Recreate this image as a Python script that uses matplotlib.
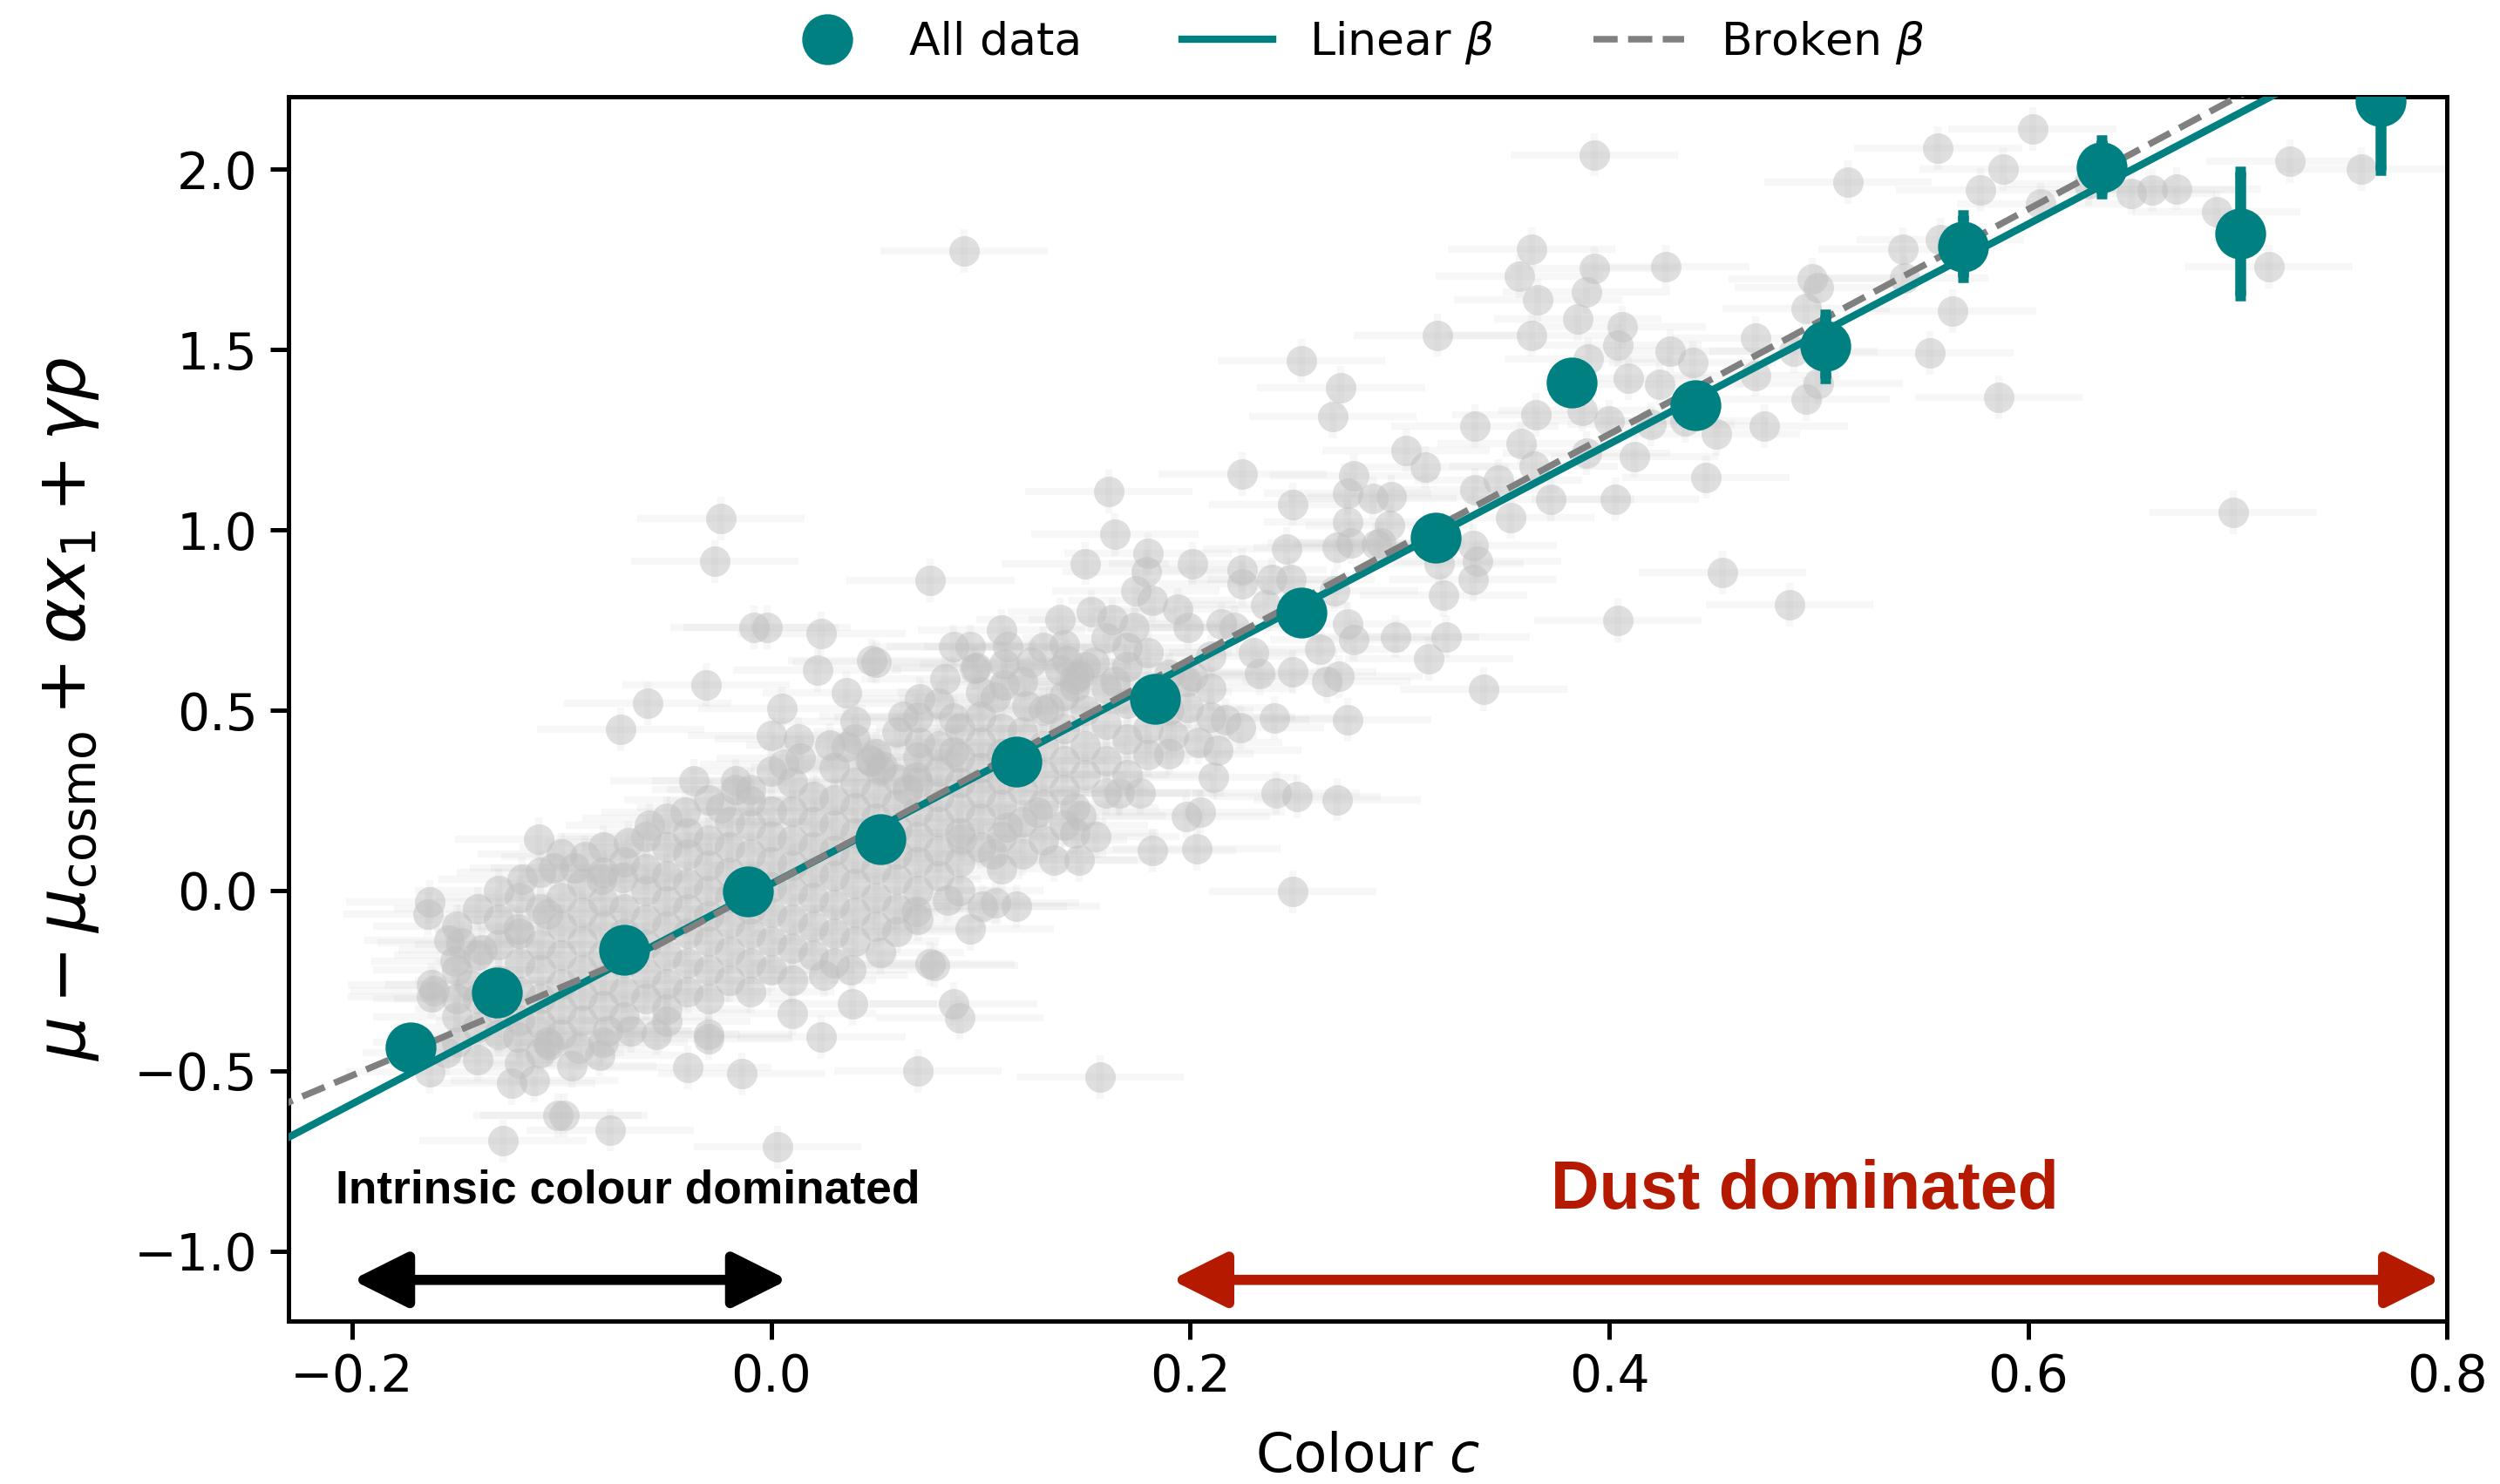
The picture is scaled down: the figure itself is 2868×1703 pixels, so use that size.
import numpy as np
import matplotlib
matplotlib.use("Agg")
import matplotlib.pyplot as plt
from matplotlib.lines import Line2D

# %% data

# binned means (teal)
bin_c = [-0.172, -0.131, -0.070, -0.011, 0.052, 0.117, 0.183, 0.253, 0.317,
         0.382, 0.441, 0.503, 0.569, 0.635, 0.701, 0.768]
bin_mu = [-0.435, -0.282, -0.165, -0.002, 0.142, 0.357, 0.531, 0.770, 0.978,
          1.409, 1.345, 1.509, 1.786, 2.006, 1.822, 2.188]
bin_err = [0.03, 0.03, 0.02, 0.02, 0.02, 0.02, 0.03, 0.03, 0.04,
           0.05, 0.05, 0.088, 0.086, 0.074, 0.172, 0.19]

# fitted relations
lin_beta = 3.05
lin_zp = 0.018
brk_c = -0.06
brk_mu = -0.170
brk_beta_lo = 2.45
brk_beta_hi = 3.12

# individual SNe (grey), outskirts of the cloud
sn_outer = [
    (0.092, 1.774), (-0.024, 1.031), (-0.027, 0.912), (0.076, 0.860),
    (-0.008, 0.730), (-0.002, 0.730), (0.024, 0.712), (0.050, 0.633),
    (0.022, 0.611), (-0.031, 0.571), (-0.059, 0.518), (-0.072, 0.447),
    (0.036, 0.549), (0.005, 0.505), (0.040, 0.469), (0.087, 0.677),
    (0.095, 0.677), (0.110, 0.721), (0.113, 0.677), (0.130, 0.673),
    (0.083, 0.588), (0.071, 0.531), (0.063, 0.482), (0.087, 0.478),
    (0.100, 0.482), (0.122, 0.513), (0.111, 0.571), (0.107, 0.535),
    (0.071, 0.411), (0.087, 0.385), (0.000, 0.429), (0.013, 0.420),
    (0.028, 0.403), (0.036, 0.398), (0.006, 0.350), (0.048, 0.358),
    (0.053, 0.345), (-0.037, 0.305), (-0.017, 0.305), (0.098, 0.619),
    (0.111, 0.628), (0.124, 0.633), (0.138, 0.611), (0.133, 0.505),
    (0.145, 0.230), (0.145, 0.159), (0.135, 0.084), (0.147, 0.084),
    (0.117, -0.044), (0.095, -0.106), (0.078, -0.208), (0.087, -0.314),
    (0.090, -0.354), (0.039, -0.314), (0.024, -0.407), (0.010, -0.341),
    (-0.030, -0.398), (0.038, -0.221), (0.025, -0.235), (0.052, -0.173),
    (0.060, -0.115), (0.069, -0.058), (0.084, -0.027), (0.101, -0.044),
    (0.106, 0.102), (0.091, 0.142), (0.113, 0.177), (0.127, 0.217),
    (0.138, 0.752), (0.153, 0.774), (0.163, 0.752), (0.173, 0.730),
    (0.194, 0.779), (0.199, 0.730), (0.215, 0.739), (0.221, 0.730),
    (0.225, 0.889), (0.225, 0.850), (0.239, 0.863), (0.248, 0.863),
    (0.236, 0.792), (0.269, 0.832), (0.275, 0.739), (0.230, 0.659),
    (0.233, 0.602), (0.249, 0.606), (0.262, 0.668), (0.271, 0.593),
    (0.265, 0.580), (0.198, 0.580), (0.154, 0.633), (0.145, 0.588),
    (0.164, 0.580), (0.161, 1.106), (0.164, 0.987), (0.150, 0.907),
    (0.180, 0.934), (0.201, 0.907), (0.246, 0.947), (0.270, 0.951),
    (0.291, 0.965), (0.179, 0.885), (0.174, 0.832), (0.182, 0.805),
    (0.225, 1.155), (0.249, 1.071), (0.278, 1.150), (0.275, 1.102),
    (0.287, 1.088), (0.296, 1.093), (0.275, 1.022), (0.295, 1.013),
    (0.253, 1.469), (0.272, 1.394), (0.268, 1.314), (0.048, 0.637),
    (0.141, 0.637), (0.170, 0.673), (0.097, 0.615), (0.147, 0.597),
    (0.145, 0.566), (0.201, 0.593), (0.240, 0.478), (0.275, 0.473),
    (0.217, 0.473), (0.224, 0.451), (0.199, 0.508), (0.192, 0.429),
    (0.204, 0.411), (0.180, 0.376), (0.213, 0.389), (0.211, 0.314),
    (0.241, 0.270), (0.251, 0.261), (0.270, 0.252), (0.198, 0.204),
    (0.205, 0.217), (0.203, 0.115), (0.182, 0.111), (0.249, -0.004),
    (0.176, 0.270), (0.166, 0.270), (0.155, 0.150), (0.148, 0.208),
    (0.107, -0.035), (0.157, -0.518), (0.070, -0.500), (0.003, -0.712),
    (-0.014, -0.509), (-0.040, -0.491), (-0.030, -0.412), (-0.077, -0.664),
    (-0.102, -0.624), (-0.099, -0.624), (-0.128, -0.695), (-0.124, -0.535),
    (-0.113, -0.527), (-0.095, -0.487), (-0.082, -0.456), (-0.107, -0.420),
    (-0.163, -0.504), (-0.155, -0.451), (-0.121, -0.407), (-0.067, -0.389),
    (-0.055, -0.398), (-0.050, -0.363), (-0.078, -0.389), (-0.106, -0.429),
    (-0.092, -0.438), (-0.162, -0.261), (-0.162, -0.296), (-0.151, -0.195),
    (-0.144, -0.261), (-0.154, -0.137), (-0.138, -0.164), (-0.148, -0.146),
    (-0.161, -0.279), (-0.163, -0.031), (-0.164, -0.066), (-0.111, 0.142),
    (-0.119, 0.031), (-0.104, 0.062), (-0.094, 0.062), (-0.089, 0.093),
    (-0.068, 0.133), (-0.058, 0.181), (-0.041, 0.217), (-0.017, 0.279),
    (-0.010, 0.248), (-0.024, 0.230), (-0.081, 0.031), (-0.071, 0.035),
    (0.014, 0.367), (0.052, 0.336), (0.047, 0.363), (0.065, 0.279),
    (0.069, 0.314), (0.076, -0.204), (-0.121, -0.106), (-0.107, -0.066),
]

# dense core of the cloud (estimated, individual points not resolvable)
sn_core = [
    (-0.15, -0.42), (-0.15, -0.35), (-0.15, -0.22), (-0.15, -0.10), (-0.15, -0.30),
    (-0.14, -0.47), (-0.14, -0.38), (-0.14, -0.30), (-0.14, -0.18), (-0.14, -0.05),
    (-0.13, -0.40), (-0.13, -0.33), (-0.13, -0.25), (-0.13, -0.15), (-0.13, -0.08),
    (-0.13, 0.00), (-0.12, -0.48), (-0.12, -0.36), (-0.12, -0.28), (-0.12, -0.20),
    (-0.12, -0.12), (-0.12, -0.02), (-0.11, -0.45), (-0.11, -0.37), (-0.11, -0.30),
    (-0.11, -0.22), (-0.11, -0.15), (-0.11, -0.05), (-0.11, 0.05), (-0.10, -0.40),
    (-0.10, -0.33), (-0.10, -0.26), (-0.10, -0.18), (-0.10, -0.10), (-0.10, -0.02),
    (-0.10, 0.10), (-0.09, -0.36), (-0.09, -0.29), (-0.09, -0.22), (-0.09, -0.14),
    (-0.09, -0.06), (-0.09, 0.02), (-0.08, -0.42), (-0.08, -0.32), (-0.08, -0.25),
    (-0.08, -0.18), (-0.08, -0.10), (-0.08, -0.03), (-0.08, 0.05), (-0.08, 0.12),
    (-0.07, -0.35), (-0.07, -0.28), (-0.07, -0.20), (-0.07, -0.12), (-0.07, -0.05),
    (-0.07, 0.08), (-0.06, -0.30), (-0.06, -0.23), (-0.06, -0.15), (-0.06, -0.08),
    (-0.06, 0.00), (-0.06, 0.06), (-0.06, 0.15), (-0.05, -0.33), (-0.05, -0.26),
    (-0.05, -0.18), (-0.05, -0.10), (-0.05, -0.03), (-0.05, 0.04), (-0.05, 0.12),
    (-0.05, 0.20), (-0.04, -0.28), (-0.04, -0.20), (-0.04, -0.12), (-0.04, -0.05),
    (-0.04, 0.02), (-0.04, 0.10), (-0.04, 0.16), (-0.03, -0.30), (-0.03, -0.22),
    (-0.03, -0.14), (-0.03, -0.07), (-0.03, 0.00), (-0.03, 0.07), (-0.03, 0.14),
    (-0.03, 0.25), (-0.02, -0.25), (-0.02, -0.17), (-0.02, -0.09), (-0.02, -0.02),
    (-0.02, 0.05), (-0.02, 0.12), (-0.02, 0.19), (-0.01, -0.28), (-0.01, -0.20),
    (-0.01, -0.12), (-0.01, -0.05), (-0.01, 0.03), (-0.01, 0.10), (-0.01, 0.18),
    (-0.01, 0.28), (0.00, -0.22), (0.00, -0.14), (0.00, -0.06), (0.00, 0.01),
    (0.00, 0.08), (0.00, 0.15), (0.00, 0.22), (0.00, 0.33), (0.01, -0.25),
    (0.01, -0.16), (0.01, -0.08), (0.01, 0.00), (0.01, 0.07), (0.01, 0.14),
    (0.01, 0.22), (0.01, 0.30), (0.02, -0.18), (0.02, -0.10), (0.02, -0.02),
    (0.02, 0.05), (0.02, 0.12), (0.02, 0.19), (0.02, 0.26), (0.03, -0.20),
    (0.03, -0.12), (0.03, -0.04), (0.03, 0.04), (0.03, 0.11), (0.03, 0.18),
    (0.03, 0.25), (0.03, 0.34), (0.04, -0.14), (0.04, -0.06), (0.04, 0.02),
    (0.04, 0.09), (0.04, 0.16), (0.04, 0.23), (0.04, 0.30), (0.04, 0.42),
    (0.05, -0.10), (0.05, -0.02), (0.05, 0.06), (0.05, 0.13), (0.05, 0.20),
    (0.05, 0.27), (0.05, 0.38), (0.06, -0.05), (0.06, 0.03), (0.06, 0.10),
    (0.06, 0.17), (0.06, 0.24), (0.06, 0.31), (0.06, 0.44), (0.07, -0.08),
    (0.07, 0.00), (0.07, 0.08), (0.07, 0.15), (0.07, 0.22), (0.07, 0.30),
    (0.07, 0.37), (0.07, 0.48), (0.08, 0.04), (0.08, 0.11), (0.08, 0.19),
    (0.08, 0.26), (0.08, 0.33), (0.08, 0.40), (0.08, 0.52), (0.09, 0.00),
    (0.09, 0.08), (0.09, 0.16), (0.09, 0.23), (0.09, 0.30), (0.09, 0.37),
    (0.09, 0.45), (0.10, 0.12), (0.10, 0.20), (0.10, 0.27), (0.10, 0.34),
    (0.10, 0.41), (0.10, 0.55), (0.11, 0.06), (0.11, 0.15), (0.11, 0.24),
    (0.11, 0.31), (0.11, 0.38), (0.11, 0.45), (0.12, 0.10), (0.12, 0.19),
    (0.12, 0.28), (0.12, 0.36), (0.12, 0.44), (0.12, 0.58), (0.13, 0.14),
    (0.13, 0.24), (0.13, 0.32), (0.13, 0.40), (0.13, 0.50), (0.14, 0.18),
    (0.14, 0.28), (0.14, 0.36), (0.14, 0.45), (0.14, 0.54), (0.14, 0.68),
    (0.15, 0.32), (0.15, 0.40), (0.15, 0.50), (0.15, 0.62), (0.16, 0.27),
    (0.16, 0.36), (0.16, 0.46), (0.16, 0.56), (0.16, 0.70), (0.17, 0.32),
    (0.17, 0.42), (0.17, 0.52), (0.17, 0.62), (0.18, 0.45), (0.18, 0.55),
    (0.18, 0.66), (0.19, 0.38), (0.19, 0.50), (0.19, 0.60), (0.21, 0.48),
    (0.21, 0.56), (0.21, 0.65),
]

# redder, dust dominated SNe
sn_red = [
    (0.363, 1.779), (0.357, 1.703), (0.393, 1.726), (0.389, 1.659), (0.366, 1.637),
    (0.385, 1.584), (0.363, 1.540), (0.427, 1.730), (0.318, 1.540), (0.406, 1.562),
    (0.404, 1.513), (0.390, 1.473), (0.429, 1.496), (0.440, 1.465), (0.409, 1.420),
    (0.424, 1.403), (0.470, 1.531), (0.500, 1.672), (0.494, 1.615), (0.488, 1.496),
    (0.470, 1.429), (0.500, 1.407), (0.494, 1.363), (0.474, 1.288), (0.451, 1.265),
    (0.436, 1.301), (0.420, 1.292), (0.400, 1.301), (0.387, 1.332), (0.365, 1.319),
    (0.336, 1.288), (0.358, 1.239), (0.364, 1.177), (0.389, 1.212), (0.412, 1.204),
    (0.446, 1.146), (0.372, 1.084), (0.403, 1.084), (0.353, 1.035), (0.336, 1.111),
    (0.347, 1.137), (0.303, 1.221), (0.312, 1.173), (0.277, 0.965), (0.289, 0.960),
    (0.335, 0.956), (0.337, 0.912), (0.335, 0.863), (0.319, 0.907), (0.321, 0.819),
    (0.278, 0.695), (0.298, 0.704), (0.322, 0.704), (0.314, 0.642), (0.340, 0.558),
    (0.454, 0.881), (0.486, 0.792), (0.404, 0.748), (0.557, 2.058), (0.602, 2.111),
    (0.588, 2.000), (0.577, 1.943), (0.606, 1.903), (0.540, 1.779), (0.541, 1.699),
    (0.558, 1.805), (0.564, 1.606), (0.553, 1.491), (0.586, 1.367), (0.629, 1.960),
    (0.649, 1.934), (0.659, 1.942), (0.671, 1.946), (0.690, 1.881), (0.725, 2.022),
    (0.759, 2.000), (0.715, 1.730), (0.698, 1.049), (0.393, 2.040), (0.514, 1.965),
    (0.497, 1.695),
]
sn_c_err = 0.04
sn_mu_err = 0.06

# %% plot
teal = "#008080"
dust_red = "#b51a00"

fig = plt.figure(figsize=(9.56, 5.677), dpi=300)
ax = fig.add_axes([0.1154, 0.1096, 0.8635, 0.8249])

pts = np.array(sn_outer + sn_core + sn_red)
ax.errorbar(pts[:, 0], pts[:, 1], xerr=sn_c_err, yerr=sn_mu_err, fmt="none",
            ecolor="silver", elinewidth=2, alpha=0.12, zorder=1)
ax.plot(pts[:, 0], pts[:, 1], "o", ms=8.4, color="silver", alpha=0.5,
        mew=0, zorder=2)

cc = np.array([-0.3, 0.9])
ax.plot(cc, lin_zp + lin_beta * cc, color=teal, lw=2, zorder=4)
cb = np.array([-0.3, brk_c, 0.9])
mb = np.where(cb < brk_c, brk_mu + brk_beta_lo * (cb - brk_c),
              brk_mu + brk_beta_hi * (cb - brk_c))
ax.plot(cb, mb, color="grey", lw=1.8, ls="--", zorder=4)

ax.errorbar(bin_c, bin_mu, yerr=bin_err, fmt="o", color=teal, ms=13,
            elinewidth=3, capsize=1.5, capthick=3, zorder=5)

ax.set_xlim(-0.2304, 0.8)
ax.set_ylim(-1.195, 2.2)
ax.set_xticks([-0.2, 0.0, 0.2, 0.4, 0.6, 0.8])
ax.set_yticks([-1.0, -0.5, 0.0, 0.5, 1.0, 1.5, 2.0])
ax.tick_params(labelsize=14, length=5, width=1.2)
for s in ax.spines.values():
    s.set_linewidth(1.2)
ax.set_xlabel("Colour $c$", fontsize=15, labelpad=8)
ax.set_ylabel(r"$\mu - \mu_{\rm cosmo} + \alpha x_1 + \gamma p$", fontsize=19,
              labelpad=9)

# regimes
ax.annotate("", xy=(-0.2, -1.08), xytext=(0.008, -1.08),
            arrowprops=dict(arrowstyle="<|-|>", color="black", lw=2.8,
                            mutation_scale=32, shrinkA=0, shrinkB=0))
ax.annotate("", xy=(0.191, -1.08), xytext=(0.797, -1.08),
            arrowprops=dict(arrowstyle="<|-|>", color=dust_red, lw=2.8,
                            mutation_scale=32, shrinkA=0, shrinkB=0))
ax.text(-0.208, -0.832, "Intrinsic colour dominated", fontsize=12.8,
        fontweight="bold", family="Liberation Sans", va="center", ha="left")
ax.text(0.4935, -0.833, "Dust dominated", fontsize=18.5, color=dust_red,
        fontweight="bold", family="Liberation Sans", va="center", ha="center")

handles = [
    Line2D([], [], marker="o", ls="none", color=teal, ms=13),
    Line2D([], [], color=teal, lw=2),
    Line2D([], [], color="grey", lw=1.8, ls="--"),
]
ax.legend(handles, ["All data", r"Linear $\beta$", r"Broken $\beta$"],
          loc="lower center", bbox_to_anchor=(0.4934, 0.992), ncol=3,
          frameon=False, fontsize=12.5, columnspacing=2.2)

fig.savefig("out.png", dpi=300)
